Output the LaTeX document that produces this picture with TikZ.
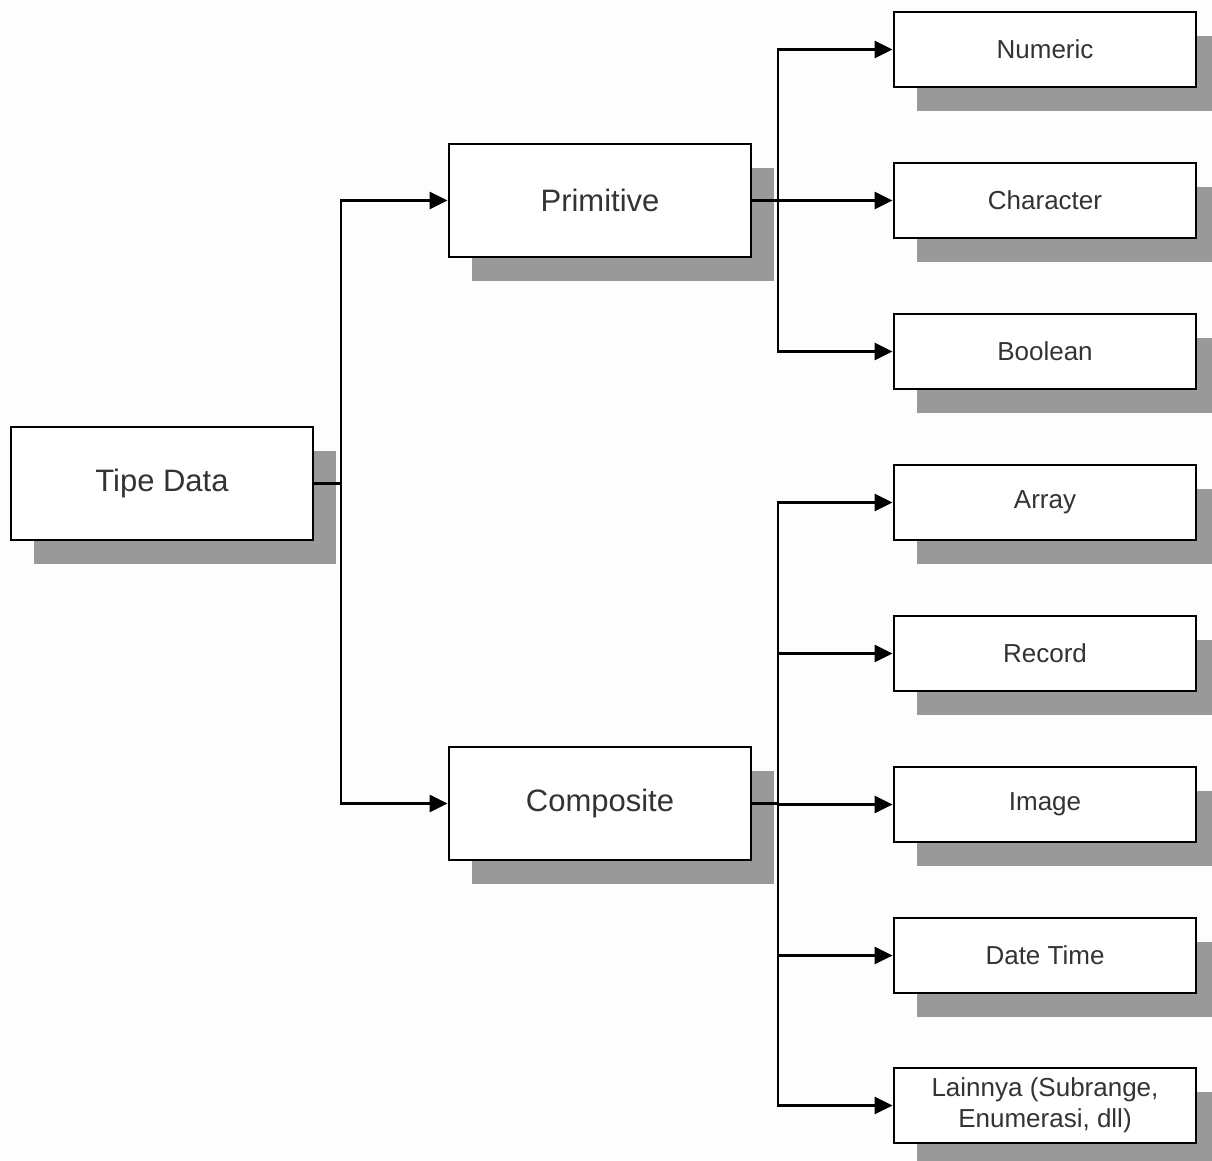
\documentclass[tikz,border=0pt]{standalone}
\usepackage{fontspec}
\setmainfont{Liberation Sans}
\usetikzlibrary{arrows.meta,shadows}
\definecolor{shadowgray}{HTML}{999999}
\definecolor{txtgray}{HTML}{333333}
\definecolor{bggray}{HTML}{FDFDFD}
\tikzset{
  boxbase/.style={draw=black, line width=2.8pt, fill=white, inner sep=0pt,
    text=txtgray, align=center,
    general shadow={shadow xshift=23pt, shadow yshift=-24pt, fill=shadowgray}},
  bigbox/.style={boxbase, minimum width=302pt, minimum height=113pt,
    font=\fontsize{31}{36}\selectfont},
  smallbox/.style={boxbase, minimum width=302pt, minimum height=75pt,
    font=\fontsize{26}{31}\selectfont},
  conn/.style={line width=2.8pt, draw=black},
  arr/.style={conn, -{Triangle[length=18pt,width=17pt]}},
}
\begin{document}
\begin{tikzpicture}[x=1pt,y=-1pt]
\useasboundingbox (0,0) rectangle (1212,1160);
\clip (0,0) rectangle (1212,1160);
\fill[bggray] (0,0) rectangle (1212,1160);

\node[bigbox] (td) at (162,483.5) {Tipe Data};
\node[bigbox] (prim) at (600,200.5) {Primitive};
\node[bigbox] (comp) at (600,803.5) {Composite};

\node[smallbox] (num) at (1045,49.5) {Numeric};
\node[smallbox] (chr) at (1045,200.5) {Character};
\node[smallbox] (bool) at (1045,351.5) {Boolean};
\node[smallbox] (arrn) at (1045,502.5) {Array};
\node[smallbox] (rec) at (1045,653.5) {Record};
\node[smallbox] (img) at (1045,804.5) {Image};
\node[smallbox] (dt) at (1045,955.5) {Date Time};
\node[smallbox] (lain) at (1045,1105.5) {Lainnya (Subrange,\\Enumerasi, dll)};

\coordinate (j1) at (341,483.5);
\coordinate (j2) at (778,200.5);
\coordinate (j3) at (778,803.5);

\draw[conn] (td.east) -- (j1);
\draw[arr] (j1) |- (prim.west);
\draw[arr] (j1) |- (comp.west);

\draw[conn] (prim.east) -- (j2);
\draw[arr] (j2) |- (num.west);
\draw[arr] (j2) -- (chr.west);
\draw[arr] (j2) |- (bool.west);

\draw[conn] (comp.east) -- (j3);
\draw[arr] (j3) |- (arrn.west);
\draw[arr] (j3) |- (rec.west);
\draw[arr] (j3) |- (img.west);
\draw[arr] (j3) |- (dt.west);
\draw[arr] (j3) |- (lain.west);
\end{tikzpicture}
\end{document}
